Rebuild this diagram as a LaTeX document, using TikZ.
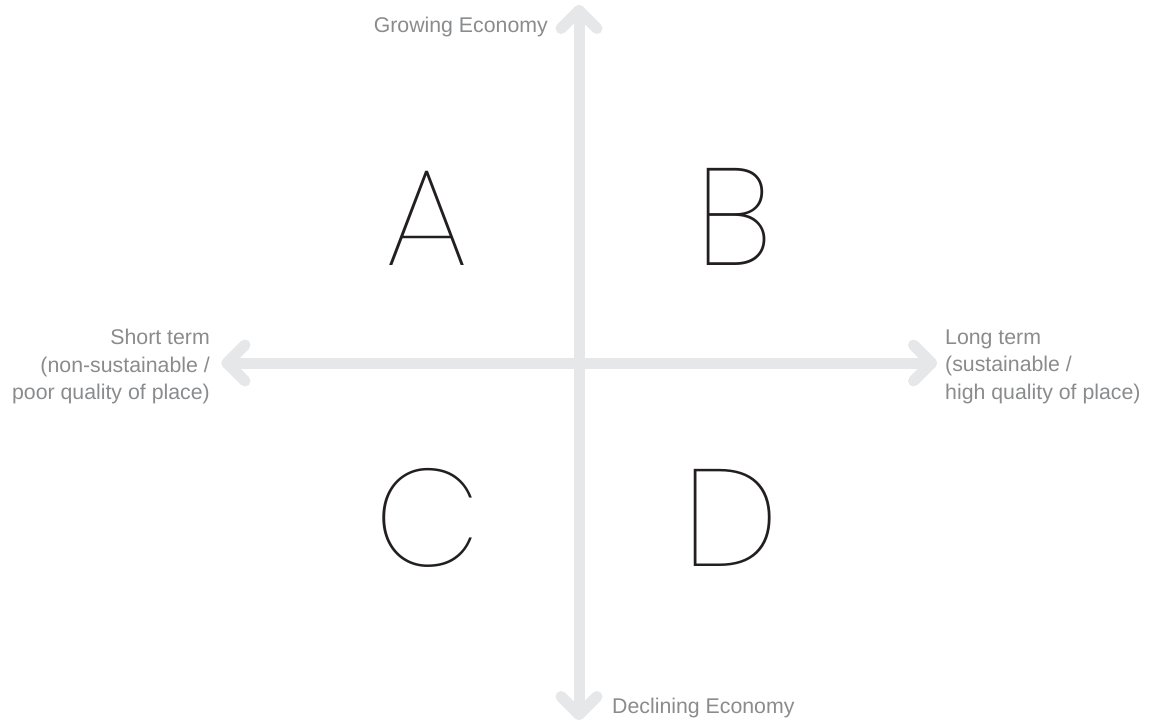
\documentclass[tikz,border=0pt]{standalone}
\usepackage{fontspec}
\setmainfont{Liberation Sans}
\IfFontExistsTF{Poppins Thin}{\newfontfamily\letterfont{Poppins Thin}}{%
  \IfFontExistsTF{Fira Sans Thin}{\newfontfamily\letterfont{Fira Sans Thin}}{\newfontfamily\letterfont{Liberation Sans}}}
\usetikzlibrary{calc}
\definecolor{axisgray}{HTML}{E6E7E8}
\definecolor{labelgray}{HTML}{8A8B8D}
\definecolor{lettergray}{HTML}{231F20}
\tikzset{
  axisline/.style={draw=axisgray, line width=11pt, line cap=round, line join=round},
  axislabel/.style={text=labelgray, inner sep=0pt, font=\fontsize{21.3}{27.5}\selectfont},
  quadletter/.style={text=lettergray, inner sep=0pt, font=\letterfont\fontsize{138}{138}\selectfont, anchor=base}
}
\begin{document}
\begin{tikzpicture}[x=1pt,y=-1pt]
\useasboundingbox (0,0) rectangle (1153,722);
% axis end points
\coordinate (top) at (579,10.5);
\coordinate (bot) at (579,714.5);
\coordinate (lft) at (227,363);
\coordinate (rgt) at (931.5,363);
% axes
\draw[axisline] (bot) -- (top);
\draw[axisline] (lft) -- (rgt);
% chevron heads
\draw[axisline] ($(top)+(-18,18)$) -- (top) -- ($(top)+(18,18)$);
\draw[axisline] ($(bot)+(-18,-18)$) -- (bot) -- ($(bot)+(18,-18)$);
\draw[axisline] ($(lft)+(18,-18)$) -- (lft) -- ($(lft)+(18,18)$);
\draw[axisline] ($(rgt)+(-18,-18)$) -- (rgt) -- ($(rgt)+(-18,18)$);
% axis labels
\node[axislabel, anchor=base east] (grow) at (548,33) {Growing Economy};
\node[axislabel, anchor=base west] (decl) at (612,713) {Declining Economy};
\node[axislabel, anchor=east, align=right] (short) at (210,366.5) {Short term\\(non-sustainable /\\poor quality of place)};
\node[axislabel, anchor=west, align=left] (long) at (945,366.6) {Long term\\(sustainable /\\high quality of place)};
% quadrant letters
\node[quadletter] (qa) at (427,265) {A};
\node[quadletter] (qb) at (734,265) {B};
\node[quadletter] (qc) at (427.5,566) {C};
\node[quadletter] (qd) at (731,566) {D};
\end{tikzpicture}
\end{document}
